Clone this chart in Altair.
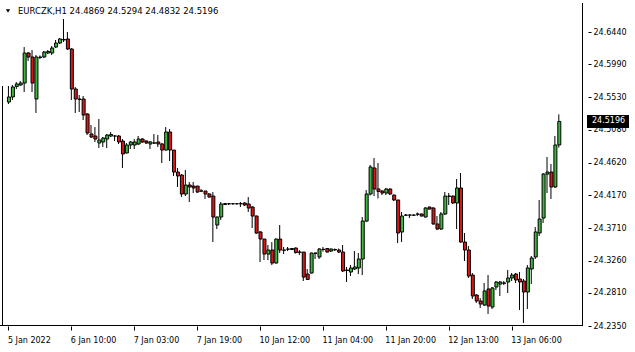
import altair as alt
import pandas as pd

symbol = "EURCZK"
timeframe = "H1"

opens = [
    24.5466, 24.5536, 24.5682, 24.5703, 24.5730, 24.6148, 24.6092, 24.5508, 24.6085, 24.6092,
    24.6148, 24.6148, 24.6231, 24.6287, 24.6336, 24.6343, 24.6204, 24.5647, 24.5508, 24.5508,
    24.5299, 24.5021, 24.4993, 24.4896, 24.4910, 24.4951, 24.4993, 24.4993, 24.4993, 24.4923,
    24.4757, 24.4868, 24.4868, 24.4882, 24.4951, 24.4923, 24.4882, 24.4896, 24.4910, 24.4882,
    24.4798, 24.5049, 24.4798, 24.4492, 24.4450, 24.4186, 24.4311, 24.4297, 24.4297, 24.4228,
    24.4228, 24.4186, 24.4158, 24.3755, 24.3866, 24.4040, 24.4051, 24.4050, 24.4051, 24.4052,
    24.4061, 24.4047, 24.4005, 24.3880, 24.3658, 24.3560, 24.3351, 24.3407, 24.3226, 24.3560,
    24.3407, 24.3421, 24.3414, 24.3435, 24.3379, 24.3379, 24.3073, 24.3087, 24.3365, 24.3310,
    24.3414, 24.3428, 24.3393, 24.3410, 24.3407, 24.3379, 24.3129, 24.3101, 24.3143, 24.3157,
    24.3282, 24.3810, 24.4186, 24.4548, 24.4256, 24.4228, 24.4200, 24.4256, 24.4172, 24.4103,
    24.3658, 24.3894, 24.3894, 24.3891, 24.3908, 24.3908, 24.3866, 24.4005, 24.3991, 24.3769,
    24.3699, 24.3908, 24.4158, 24.4158, 24.4061, 24.4270, 24.3518, 24.3407, 24.3059, 24.2781,
    24.2698, 24.2642, 24.2865, 24.2614, 24.2893, 24.2934, 24.2948, 24.2962, 24.3018, 24.3073,
    24.3004, 24.2976, 24.2823, 24.3143, 24.3310, 24.3644, 24.3852, 24.4464, 24.4492, 24.4284,
    24.4869,
]
highs = [
    24.5689, 24.5703, 24.5744, 24.5758, 24.6231, 24.6162, 24.6189, 24.6120, 24.6113, 24.6176,
    24.6189, 24.6245, 24.6329, 24.6357, 24.6621, 24.6440, 24.6217, 24.5675, 24.5564, 24.5550,
    24.5313, 24.5146, 24.5118, 24.5230, 24.4979, 24.5021, 24.5049, 24.5000, 24.5007, 24.4951,
    24.4896, 24.4923, 24.4951, 24.4993, 24.4965, 24.4937, 24.4923, 24.5021, 24.5007, 24.4896,
    24.5118, 24.5090, 24.4798, 24.4548, 24.4464, 24.4520, 24.4353, 24.4353, 24.4297, 24.4256,
    24.4228, 24.4200, 24.4214, 24.3873, 24.4075, 24.4061, 24.4061, 24.4061, 24.4058, 24.4075,
    24.4075, 24.4144, 24.4019, 24.3887, 24.3672, 24.3560, 24.3477, 24.3518, 24.3567, 24.3755,
    24.3449, 24.3449, 24.3435, 24.3442, 24.3407, 24.3379, 24.3143, 24.3372, 24.3372, 24.3435,
    24.3449, 24.3435, 24.3428, 24.3428, 24.3428, 24.3477, 24.3171, 24.3198, 24.3393, 24.3365,
    24.3866, 24.4242, 24.4590, 24.4687, 24.4617, 24.4242, 24.4270, 24.4263, 24.4179, 24.4103,
    24.3936, 24.3908, 24.3901, 24.3901, 24.3929, 24.3915, 24.4005, 24.4012, 24.4005, 24.3880,
    24.3936, 24.4214, 24.4200, 24.4165, 24.4395, 24.4478, 24.3644, 24.3463, 24.3087, 24.2795,
    24.2739, 24.2948, 24.3059, 24.2893, 24.2976, 24.2976, 24.2976, 24.3129, 24.3087, 24.3087,
    24.3101, 24.3004, 24.3198, 24.3324, 24.3727, 24.4103, 24.4478, 24.4701, 24.4603, 24.4993,
    24.5294,
]
lows = [
    24.5438, 24.5494, 24.5647, 24.5689, 24.5605, 24.6037, 24.5605, 24.5313, 24.6064, 24.6078,
    24.6134, 24.6120, 24.6217, 24.6273, 24.6301, 24.6189, 24.5494, 24.5313, 24.5327, 24.5216,
    24.5007, 24.4965, 24.4910, 24.4826, 24.4840, 24.4826, 24.4979, 24.4923, 24.4882, 24.4548,
    24.4750, 24.4812, 24.4812, 24.4868, 24.4896, 24.4882, 24.4812, 24.4882, 24.4840, 24.4618,
    24.4791, 24.4645, 24.4437, 24.4284, 24.4144, 24.4158, 24.4075, 24.4200, 24.4200, 24.4214,
    24.4117, 24.4137, 24.3518, 24.3699, 24.3824, 24.4033, 24.4033, 24.4040, 24.4040, 24.4005,
    24.4019, 24.3936, 24.3713, 24.3630, 24.3240, 24.3268, 24.3268, 24.3198, 24.3219, 24.3365,
    24.3351, 24.3393, 24.3407, 24.3358, 24.3337, 24.2976, 24.2990, 24.3080, 24.3282, 24.3282,
    24.3386, 24.3372, 24.3379, 24.3393, 24.3365, 24.3101, 24.2962, 24.3045, 24.3129, 24.3073,
    24.3059, 24.3796, 24.4165, 24.4158, 24.4124, 24.4172, 24.4172, 24.4172, 24.4089, 24.3504,
    24.3518, 24.3880, 24.3852, 24.3880, 24.3880, 24.3873, 24.3859, 24.3970, 24.3762, 24.3685,
    24.3685, 24.3894, 24.4033, 24.4047, 24.3699, 24.3511, 24.3254, 24.3018, 24.2725, 24.2670,
    24.2600, 24.2628, 24.2517, 24.2586, 24.2851, 24.2767, 24.2920, 24.2809, 24.2976, 24.2948,
    24.2572, 24.2392, 24.2586, 24.2934, 24.3282, 24.3602, 24.3783, 24.4200, 24.4117, 24.4270,
    24.4832,
]
closes = [
    24.5536, 24.5675, 24.5717, 24.5730, 24.6148, 24.6092, 24.5730, 24.6092, 24.6092, 24.6162,
    24.6169, 24.6217, 24.6287, 24.6343, 24.6329, 24.6204, 24.5647, 24.5508, 24.5501, 24.5285,
    24.5035, 24.4979, 24.4951, 24.4937, 24.4965, 24.5007, 24.5014, 24.4993, 24.4910, 24.4743,
    24.4868, 24.4910, 24.4910, 24.4951, 24.4910, 24.4896, 24.4910, 24.4896, 24.4882, 24.4798,
    24.5049, 24.4798, 24.4492, 24.4437, 24.4186, 24.4311, 24.4284, 24.4270, 24.4214, 24.4228,
    24.4186, 24.4144, 24.3866, 24.3866, 24.4047, 24.4054, 24.4050, 24.4051, 24.4050, 24.4050,
    24.4033, 24.3991, 24.3880, 24.3644, 24.3560, 24.3351, 24.3407, 24.3226, 24.3560, 24.3407,
    24.3403, 24.3418, 24.3428, 24.3372, 24.3375, 24.3031, 24.2997, 24.3365, 24.3361, 24.3421,
    24.3417, 24.3379, 24.3421, 24.3414, 24.3379, 24.3115, 24.3122, 24.3157, 24.3171, 24.3282,
    24.3810, 24.4186, 24.4562, 24.4256, 24.4221, 24.4200, 24.4256, 24.4186, 24.4103, 24.3644,
    24.3880, 24.3891, 24.3893, 24.3894, 24.3905, 24.3880, 24.3991, 24.3977, 24.3769, 24.3699,
    24.3908, 24.4158, 24.4154, 24.4061, 24.4270, 24.3518, 24.3407, 24.3045, 24.2767, 24.2698,
    24.2656, 24.2837, 24.2628, 24.2879, 24.2962, 24.2962, 24.2945, 24.3018, 24.3059, 24.2990,
    24.2962, 24.2823, 24.3157, 24.3296, 24.3658, 24.3838, 24.4464, 24.4492, 24.4284, 24.4868,
    24.5196,
]

time_label_bars = [0, 16, 32, 48, 64, 80, 96, 112, 128]
time_labels = ["5 Jan 2022", "6 Jan 10:00", "7 Jan 03:00", "7 Jan 19:00", "10 Jan 12:00",
               "11 Jan 04:00", "11 Jan 20:00", "12 Jan 13:00", "13 Jan 06:00"]
price_ticks = [24.2350, 24.2810, 24.3260, 24.3710, 24.4170, 24.4620,
               24.5080, 24.5530, 24.5990, 24.6440]

GREEN = "#3cb83c"
RED = "#d81818"
FONT = "DejaVu Sans"

df = pd.DataFrame({"i": list(range(len(opens))), "o": opens, "h": highs,
                   "l": lows, "c": closes})
df["dir"] = ["up" if c >= o else "down" for o, c in zip(opens, closes)]

# bar i is centred at pixel 4*i + 4
xscale = alt.Scale(domain=[-1, 144.5], nice=False, zero=False)
yscale = alt.Scale(domain=[24.235, 24.68436], nice=False, zero=False)

label_map = "{" + ",".join(f"'{b}':'{t}'" for b, t in zip(time_label_bars, time_labels)) + "}"
xaxis = alt.Axis(values=time_label_bars, labelExpr=f"{label_map}[datum.value]",
                 domain=False, grid=False, ticks=True, tickSize=4, tickColor="black",
                 tickOffset=-0.5,
                 labelAlign="left", labelFlush=False, labelOverlap=False,
                 labelPadding=6, labelOffset=-1, labelFont=FONT, labelFontSize=8,
                 labelColor="black", title=None)
yaxis = alt.Axis(orient="right", values=price_ticks, format=".4f", domain=False,
                 grid=False, offset=6, tickSize=3, tickColor="black", labelPadding=2,
                 labelFlush=False, labelOverlap=False, labelFont=FONT, labelFontSize=8,
                 labelColor="black", title=None)

X = alt.X("i:Q", scale=xscale, axis=xaxis)

wicks = alt.Chart(df).mark_rule(color="black", strokeWidth=1, xOffset=-0.5).encode(
    x=X, y=alt.Y("l:Q", scale=yscale, axis=yaxis), y2="h:Q")

bodies = alt.Chart(df).mark_bar(size=3, stroke="black", strokeWidth=1).encode(
    x=X, y=alt.Y("o:Q", scale=yscale, axis=yaxis), y2="c:Q",
    color=alt.Color("dir:N", scale=alt.Scale(domain=["up", "down"], range=[GREEN, RED]),
                    legend=None))

one = alt.Data(values=[{"k": 1}])
frame_right = alt.Chart(one).mark_rule(color="black").encode(
    x=alt.value(582.5), y=alt.value(0), y2=alt.value(323))
frame_bottom = alt.Chart(one).mark_rule(color="black").encode(
    x=alt.value(0), x2=alt.value(582.5), y=alt.value(322.5))
frame_left = alt.Chart(one).mark_rule(color="black").encode(
    x=alt.value(2.5), y=alt.value(83), y2=alt.value(323))

last = len(closes) - 1
header = (f"{symbol},{timeframe}  {opens[last]:.4f} {highs[last]:.4f} "
          f"{lows[last]:.4f} {closes[last]:.4f}")
head_df = pd.DataFrame({"t": [header]})
header_text = alt.Chart(head_df).mark_text(
    align="left", baseline="middle", font=FONT, fontSize=8.5, color="black").encode(
    x=alt.value(18), y=alt.value(8), text="t:N")
triangle = alt.Chart(one).mark_point(
    shape="triangle-down", filled=True, color="black", size=18, opacity=1).encode(
    x=alt.value(8), y=alt.value(8))

price_df = pd.DataFrame({"p": [closes[last]], "t": [f"{closes[last]:.4f}"]})
price_box = alt.Chart(price_df).mark_rule(color="black", strokeWidth=13, strokeCap="butt").encode(
    x=alt.value(587), x2=alt.value(629), y=alt.Y("p:Q", scale=yscale, axis=yaxis))
price_text = alt.Chart(price_df).mark_text(
    align="left", baseline="middle", font=FONT, fontSize=8, color="white").encode(
    x=alt.value(592), y=alt.Y("p:Q", scale=yscale, axis=yaxis), text="t:N")

chart = alt.layer(
    wicks, bodies, frame_right, frame_bottom, frame_left,
    header_text, triangle, price_box, price_text
).properties(
    width=582, height=323,
    autosize=alt.AutoSizeParams(type="none"),
    padding={"left": 0, "top": 3, "right": 53, "bottom": 26},
    background="white",
).configure_view(stroke=None)

chart.save("out.html", embed_options={"renderer": "svg", "actions": False})
